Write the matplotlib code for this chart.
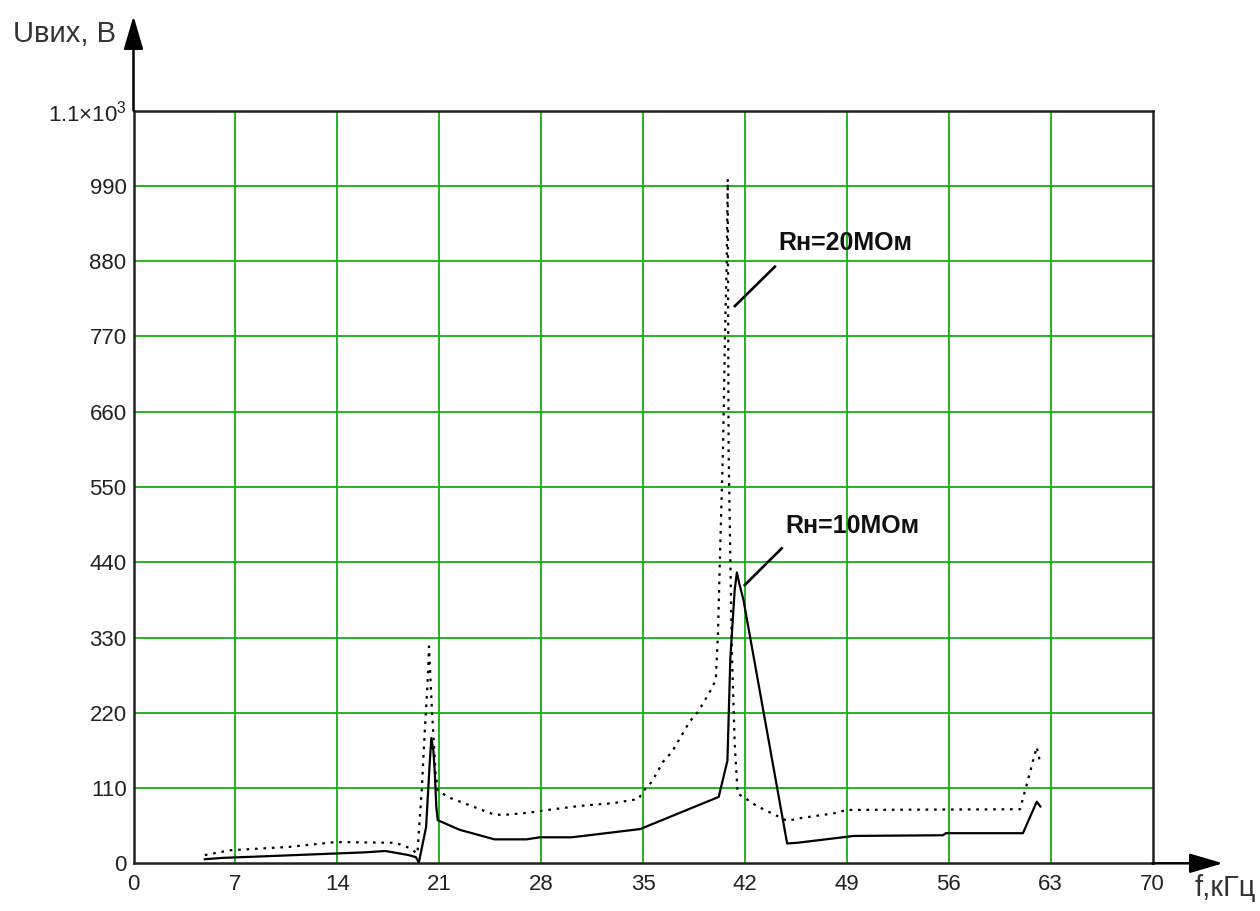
import matplotlib
matplotlib.use("Agg")
import matplotlib.pyplot as plt
from matplotlib import font_manager

# ---------------- data ----------------
f_10 = [4.9, 6.2, 8.7, 12.3, 15.9, 17.3, 18.9, 19.4, 19.6, 20.1, 20.35, 20.46, 20.6, 20.7,
        20.8, 20.9, 22.4, 24.8, 27.0, 27.9, 30.1, 34.8, 40.2, 40.8, 41.0, 41.3, 41.45,
        41.6, 41.9, 44.9, 45.6, 49.5, 55.6, 55.8, 61.1, 62.05, 62.3]
u_10 = [6, 8, 10, 13, 16, 18, 12, 9, 1, 53, 147, 183, 165, 132,
        83, 63, 49, 35, 35, 38, 38, 50, 97, 150, 300, 400, 425,
        410, 385, 29, 30, 40, 41, 44, 44, 90, 83]

f_20 = [4.9, 6.6, 10.7, 13.9, 18.0, 19.0, 19.5, 19.8, 20.0, 20.2, 20.3, 20.5, 20.75, 20.9,
        21.0, 21.7, 24.8, 25.6, 27.2, 28.1, 30.7, 33.0, 34.7, 35.0, 35.6, 36.4, 37.0,
        38.2, 38.8, 39.6, 40.0, 40.15, 40.3, 40.5, 40.63, 40.75, 40.82, 40.88, 41.0,
        41.1, 41.3, 41.5, 42.1, 42.8, 44.9, 45.8, 48.1, 49.0, 60.9, 62.05, 62.3]
u_20 = [12, 19, 24, 31, 30, 22, 14, 107, 190, 263, 317, 224, 132, 107,
        105, 96, 71, 71, 74, 77, 84, 88, 94, 105, 119, 149, 163,
        207, 222, 251, 268, 336, 458, 609, 770, 877, 1000, 605, 444,
        312, 175, 102, 94, 84, 62, 66, 73, 78, 79, 170, 145]

x_ticks = [0, 7, 14, 21, 28, 35, 42, 49, 56, 63, 70]
y_ticks = [0, 110, 220, 330, 440, 550, 660, 770, 880, 990, 1100]
y_tick_labels = ["0", "110", "220", "330", "440", "550", "660", "770", "880", "990",
                 "1.1×10$^3$"]

label_y = "Uвих, В"
label_x = "f,кГц"
ann_20 = "Rн=20МОм"
ann_10 = "Rн=10МОм"

# ---------------- fonts ----------------
names = {f.name for f in font_manager.fontManager.ttflist}
if "Liberation Sans Narrow" in names:
    tick_font = "Liberation Sans Narrow"
    tick_size = 19
else:
    tick_font = "Liberation Sans"
    tick_size = 16
plt.rcParams["font.family"] = ["Liberation Sans", "DejaVu Sans"]
plt.rcParams["mathtext.fontset"] = "custom"
plt.rcParams["mathtext.rm"] = tick_font
plt.rcParams["mathtext.default"] = "regular"

W, H = 1260, 911
fig = plt.figure(figsize=(W / 100, H / 100), dpi=100)
x0, x1 = 133.5, 1152.5
y0, y1 = 863.3, 110.7
ax = fig.add_axes([x0 / W, 1 - y0 / H, (x1 - x0) / W, (y0 - y1) / H])
ax.set_xlim(0, 70)
ax.set_ylim(0, 1100)

green = "#12B012"
for xv in x_ticks[1:-1]:
    ax.axvline(xv, color=green, lw=1.3, zorder=1)
for yv in y_ticks[1:-1]:
    ax.axhline(yv, color=green, lw=1.3, zorder=1)

ax.plot(f_20, u_20, color="black", lw=1.6, linestyle=(0, (1.2, 2.6)), zorder=3)
ax.plot(f_10, u_10, color="black", lw=1.6, linestyle="-", zorder=4)

for s in ax.spines.values():
    s.set_color("#222222")
    s.set_linewidth(1.8)

ax.set_xticks(x_ticks)
ax.set_xticklabels([str(v) for v in x_ticks])
ax.set_yticks(y_ticks)
ax.set_yticklabels(y_tick_labels)
ax.tick_params(length=0, labelsize=tick_size, colors="#222222")
ax.tick_params(axis="x", pad=8)
ax.tick_params(axis="y", pad=5)
for t in ax.get_xticklabels() + ax.get_yticklabels():
    t.set_fontfamily([tick_font, "DejaVu Sans"])

# axis arrows
arrow_style = "-|>,head_length=1.7,head_width=0.5"
ax.annotate("", xy=(0, 1 + (110.7 - 16) / (y0 - y1)), xytext=(0, 1),
            xycoords="axes fraction", textcoords="axes fraction",
            arrowprops=dict(arrowstyle=arrow_style, mutation_scale=12,
                            color="black", lw=1.8, shrinkA=0, shrinkB=0),
            annotation_clip=False)
ax.annotate("", xy=(1 + (1223 - x1) / (x1 - x0), 0), xytext=(1, 0),
            xycoords="axes fraction", textcoords="axes fraction",
            arrowprops=dict(arrowstyle=arrow_style, mutation_scale=12,
                            color="black", lw=1.8, shrinkA=0, shrinkB=0),
            annotation_clip=False)

# axis labels
fig.text(13 / W, 1 - 34 / H, label_y, fontsize=21, color="#333333",
         ha="left", va="center")
fig.text(1195 / W, 1 - 888 / H, label_x, fontsize=21, color="#333333",
         ha="left", va="center")

# annotations
ax.text(44.27, 906, ann_20, fontsize=18, fontweight="bold", ha="left", va="center",
        color="#111111", zorder=5)
ax.plot([44.06, 41.31], [872, 814.5], color="black", lw=1.9, zorder=5)
ax.text(44.75, 493, ann_10, fontsize=18, fontweight="bold", ha="left", va="center",
        color="#111111", zorder=5)
ax.plot([44.53, 41.99], [460.4, 406.7], color="black", lw=1.9, zorder=5)

fig.savefig("out.png", dpi=100, facecolor="white")
